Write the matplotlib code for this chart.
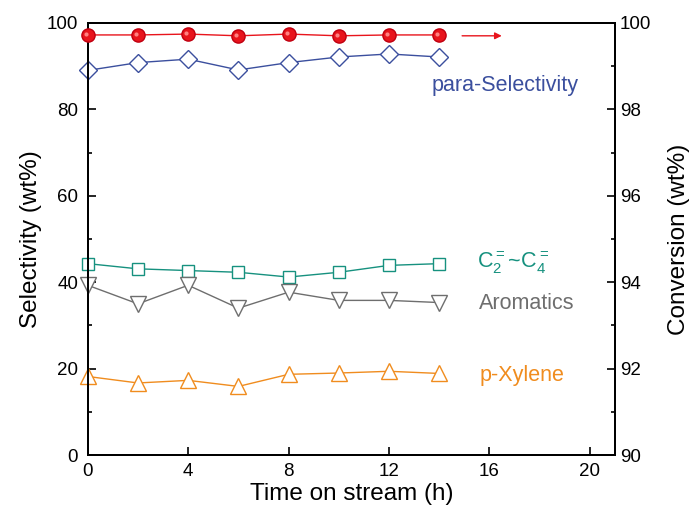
import numpy as np
import matplotlib
matplotlib.use("Agg")
import matplotlib.pyplot as plt
from matplotlib.ticker import MultipleLocator

plt.rcParams['font.family'] = ['Liberation Sans', 'DejaVu Sans']
plt.rcParams['mathtext.fontset'] = 'custom'
plt.rcParams['mathtext.rm'] = 'Liberation Sans'

# data
time_h = [0, 2, 4, 6, 8, 10, 12, 14]
conversion = [99.72, 99.72, 99.74, 99.70, 99.74, 99.70, 99.72, 99.72]
para_sel = [89.0, 90.8, 91.6, 89.1, 90.8, 92.1, 92.8, 92.1]
c2_c4 = [44.3, 43.1, 42.7, 42.3, 41.2, 42.3, 43.9, 44.3]
aromatics = [39.3, 35.0, 39.3, 34.0, 37.7, 35.8, 35.8, 35.3]
p_xylene = [18.2, 16.7, 17.3, 15.9, 18.7, 19.0, 19.4, 18.9]

c_red = '#e8141c'
c_blue = '#3b4f9e'
c_teal = '#16917f'
c_grey = '#6e6e6e'
c_orange = '#f08c1e'

fig = plt.figure(figsize=(6.91, 5.19), dpi=100)
ax = fig.add_axes([0.127, 0.123, 0.763, 0.833])
ax2 = ax.twinx()

ax.plot(time_h, para_sel, '-D', color=c_blue, mfc='white', mec=c_blue, ms=9, lw=1, mew=1, clip_on=False, zorder=3)
ax.plot(time_h, c2_c4, '-s', color=c_teal, mfc='white', mec=c_teal, ms=8.5, lw=1, mew=1, clip_on=False, zorder=3)
ax.plot(time_h, aromatics, '-v', color=c_grey, mfc='white', mec=c_grey, ms=11, lw=1, mew=1, clip_on=False, zorder=3)
ax.plot(time_h, p_xylene, '-^', color=c_orange, mfc='white', mec=c_orange, ms=11, lw=1, mew=1, clip_on=False, zorder=3)

ax2.plot(time_h, conversion, '-o', color=c_red, mfc=c_red, mec='#c00010', ms=9.5, lw=1, clip_on=False, zorder=3)
# small highlight to mimic the glossy balls
ax2.plot(np.array(time_h) - 0.08, np.array(conversion) + 0.025, 'o', color='#ff8080', ms=3, mew=0, clip_on=False, zorder=4)
ax2.annotate('', xy=(16.6, 99.7), xytext=(14.8, 99.7),
             arrowprops=dict(arrowstyle='-|>', color=c_red, lw=1, mutation_scale=10))

ax.text(13.7, 85.5, 'para-Selectivity', color=c_blue, fontsize=15.5, va='center')
ax.text(15.5, 44.5, r'$\mathregular{C_2^{=}}$~$\mathregular{C_4^{=}}$', color=c_teal, fontsize=15.5, va='center')
ax.text(15.6, 35.0, 'Aromatics', color=c_grey, fontsize=15.5, va='center')
ax.text(15.6, 18.5, 'p-Xylene', color=c_orange, fontsize=15.5, va='center')

ax.set_xlim(0, 21)
ax.set_ylim(0, 100)
ax2.set_ylim(90, 100)
ax.xaxis.set_major_locator(MultipleLocator(4))
ax.yaxis.set_major_locator(MultipleLocator(20))
ax.yaxis.set_minor_locator(MultipleLocator(10))
ax2.yaxis.set_major_locator(MultipleLocator(2))
ax2.yaxis.set_minor_locator(MultipleLocator(1))

for a in (ax, ax2):
    a.tick_params(which='both', direction='in', labelsize=13.5, width=1.2)
    a.tick_params(which='major', length=6)
    a.tick_params(which='minor', length=3)
    for s in a.spines.values():
        s.set_linewidth(1.4)
ax.tick_params(axis='y', pad=7)
ax.tick_params(axis='x', pad=6)

ax.set_xlabel('Time on stream (h)', fontsize=17.5, labelpad=2)
ax.set_ylabel('Selectivity (wt%)', fontsize=17.5, labelpad=3)
ax2.set_ylabel('Conversion (wt%)', fontsize=17.5, labelpad=12)

fig.savefig('out.png', dpi=100)
